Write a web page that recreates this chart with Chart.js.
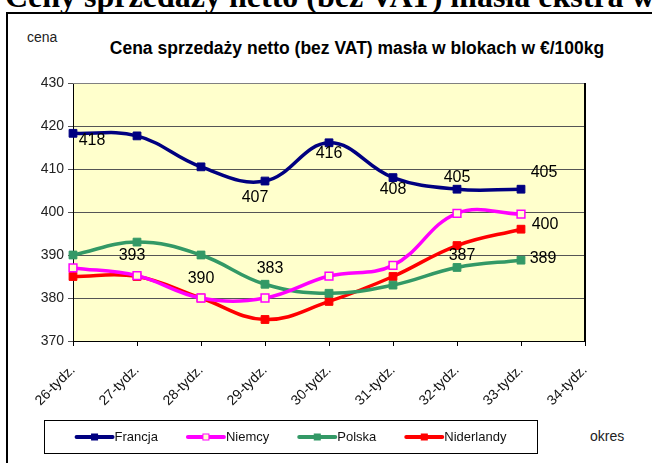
<html><head>
<meta charset="UTF-8">
<title>Cena sprzedaży masła</title>
<style>
  body {
    margin: 0;
    padding: 0;
    background: white;
    font-family: 'Liberation Sans', Arial, sans-serif;
    overflow: hidden;
  }
  .wrap {
    position: relative;
    width: 652px;
    height: 463px;
    overflow: hidden;
  }
  .header {
    position: absolute;
    left: 5px;
    top: -22px;
    font-family: 'Liberation Serif', 'Times New Roman', serif;
    font-weight: bold;
    font-size: 32px;
    white-space: nowrap;
    color: black;
  }
  .frame {
    position: absolute;
    left: 6px;
    top: 12px;
    width: 700px;
    height: 500px;
    border-left: 2px solid black;
    border-top: 2px solid black;
  }
  .cena {
    position: absolute;
    left: 27px;
    top: 29px;
    font-size: 14px;
    color: #222;
  }
  .title {
    position: absolute;
    left: 0;
    width: 714px;
    top: 38px;
    text-align: center;
    font-weight: bold;
    font-size: 17.5px;
    color: black;
  }
  .okres {
    position: absolute;
    left: 590px;
    top: 428px;
    font-size: 14px;
    color: #222;
  }
  canvas {
    position: absolute;
    left: 0;
    top: 0;
  }
</style>
<script src="https://cdn.jsdelivr.net/npm/chart.js"></script>
</head>
<body>
<div class="wrap">
  <div class="header">Ceny sprzedaży netto (bez VAT) masła ekstra w blokach</div>
  <div class="frame"></div>
  <div class="cena">cena</div>
  <div class="title">Cena sprzedaży netto (bez VAT) masła w blokach w €/100kg</div>
  <div class="okres">okres</div>
  <canvas id="chart" width="652" height="463"></canvas>
</div>

<script>
  // weeks on the x axis
  var weeks = ['26-tydz.', '27-tydz.', '28-tydz.', '29-tydz.', '30-tydz.', '31-tydz.', '32-tydz.', '33-tydz.', '34-tydz.'];

  // prices per country, EUR/100kg
  var francja = [418.3, 417.7, 410.5, 407.2, 416.1, 408.0, 405.3, 405.3];
  var niemcy = [387.0, 385.2, 380.0, 380.0, 385.1, 387.6, 399.7, 399.5];
  var polska = [390.0, 393.0, 390.0, 383.2, 381.1, 383.0, 387.1, 388.8];
  var niderlandy = [385.0, 385.0, 380.0, 375.0, 379.2, 385.0, 392.2, 396.0];

  var yTicks = [370, 380, 390, 400, 410, 420, 430];

  // where the value labels sit next to their point (dx, dy in px), null = no label
  var labelSpots = [
    [[19, 7], null, null, [-10, 17], [0, 11], [0, 12], [0, -12], [23, -17]],
    [null, null, null, null, null, null, null, [24, 10]],
    [null, [-5, 13], [0, 24], [5, -16], null, null, [5, -12], [22, -2]],
    null
  ];

  var plotBg = {
    id: 'plotBg',
    beforeDraw: function(chart) {
      var a = chart.chartArea, ctx = chart.ctx;
      ctx.save();
      ctx.fillStyle = '#FFFFCC';
      ctx.fillRect(a.left, a.top, a.right - a.left, a.bottom - a.top);
      ctx.restore();
    },
    afterDraw: function(chart) {
      var a = chart.chartArea, ctx = chart.ctx;
      ctx.save();
      ctx.strokeStyle = '#808080';
      ctx.lineWidth = 1;
      ctx.beginPath();
      ctx.moveTo(a.left, a.top + 0.5);
      ctx.lineTo(a.right, a.top + 0.5);
      ctx.stroke();
      ctx.strokeStyle = '#000';
      ctx.lineWidth = 2;
      ctx.beginPath();
      ctx.moveTo(a.right, a.top);
      ctx.lineTo(a.right, a.bottom);
      ctx.stroke();
      ctx.restore();
    }
  };

  var valueLabels = {
    id: 'valueLabels',
    afterDatasetsDraw: function(chart) {
      var ctx = chart.ctx;
      ctx.save();
      ctx.font = '16px "Liberation Sans", Arial';
      ctx.fillStyle = '#000';
      ctx.textAlign = 'center';
      ctx.textBaseline = 'middle';
      chart.data.datasets.forEach(function(ds, i) {
        var spots = labelSpots[i];
        if (!spots) return;
        var meta = chart.getDatasetMeta(i);
        meta.data.forEach(function(pt, j) {
          if (!spots[j]) return;
          ctx.fillText(Math.round(ds.data[j]), pt.x + spots[j][0], pt.y + spots[j][1]);
        });
      });
      ctx.restore();
    }
  };

  // legend in a box below the axis, like the Excel one
  var boxLegend = {
    id: 'boxLegend',
    afterDraw: function(chart) {
      var ctx = chart.ctx;
      var box = { left: 44, top: 420, right: 537, bottom: 453 };
      ctx.save();
      ctx.strokeStyle = '#000';
      ctx.lineWidth = 1;
      ctx.strokeRect(box.left + 0.5, box.top + 0.5, box.right - box.left, box.bottom - box.top);
      ctx.font = '13px "Liberation Sans", Arial';
      var lineLen = 40, gap = 28;
      var items = chart.data.datasets.map(function(ds) {
        return { ds: ds, w: lineLen + ctx.measureText(ds.label).width };
      });
      var total = items.reduce(function(s, it) { return s + it.w; }, 0) + gap * (items.length - 1);
      var x = (box.left + box.right) / 2 - total / 2;
      var y = (box.top + box.bottom) / 2 + 0.5;
      items.forEach(function(it) {
        var ds = it.ds;
        ctx.strokeStyle = ds.borderColor;
        ctx.lineWidth = 4;
        ctx.lineCap = 'round';
        ctx.beginPath();
        ctx.moveTo(x + 2, y);
        ctx.lineTo(x + lineLen - 2, y);
        ctx.stroke();
        ctx.fillStyle = ds.pointBackgroundColor;
        ctx.fillRect(x + lineLen / 2 - 3, y - 3, 6, 6);
        ctx.strokeStyle = ds.pointBorderColor;
        ctx.lineWidth = 1;
        ctx.strokeRect(x + lineLen / 2 - 3, y - 3, 6, 6);
        ctx.fillStyle = '#111';
        ctx.textBaseline = 'middle';
        ctx.fillText(ds.label, x + lineLen, y);
        x += it.w + gap;
      });
      ctx.restore();
    }
  };

  function series(label, data, color, fill) {
    return {
      label: label,
      data: data,
      borderColor: color,
      backgroundColor: color,
      pointBackgroundColor: fill || color,
      pointBorderColor: color,
      borderWidth: 3.5,
      pointStyle: 'rect',
      pointRadius: 5.5,
      pointBorderWidth: fill ? 1.5 : 1,
      tension: 0.4,
      fill: false
    };
  }

  var ctx = document.getElementById('chart').getContext('2d');
  var chart = new Chart(ctx, {
    type: 'line',
    data: {
      labels: weeks,
      datasets: [
        series('Francja', francja, '#000080'),
        series('Niemcy', niemcy, '#FF00FF', '#FFFFCC'),
        series('Polska', polska, '#339966'),
        series('Niderlandy', niderlandy, '#FF0000')
      ]
    },
    options: {
      responsive: false,
      animation: false,
      layout: { padding: { left: 0, top: 83, right: 67, bottom: 0 } },
      plugins: {
        legend: { display: false },
        tooltip: { enabled: false },
        title: { display: false }
      },
      scales: {
        x: {
          offset: false,
          grid: { drawOnChartArea: false, drawTicks: true, tickLength: 5, color: '#000' },
          border: { color: '#000', width: 1 },
          ticks: {
            minRotation: 45,
            maxRotation: 45,
            autoSkip: false,
            color: '#111',
            font: { family: '"Liberation Sans", Arial', size: 14 },
            padding: 16
          },
          afterFit: function(scale) { scale.height = 122; }
        },
        y: {
          min: 370,
          max: 430,
          afterBuildTicks: function(scale) {
            scale.ticks = yTicks.map(function(v) { return { value: v }; });
          },
          grid: { color: '#555', tickLength: 5, lineWidth: 1 },
          border: { color: '#000', width: 1 },
          ticks: {
            color: '#222',
            font: { family: '"Liberation Sans", Arial', size: 14 },
            padding: 4
          },
          afterFit: function(scale) { scale.width = 73; }
        }
      }
    },
    plugins: [plotBg, valueLabels, boxLegend]
  });
</script>
</body>
</html>
